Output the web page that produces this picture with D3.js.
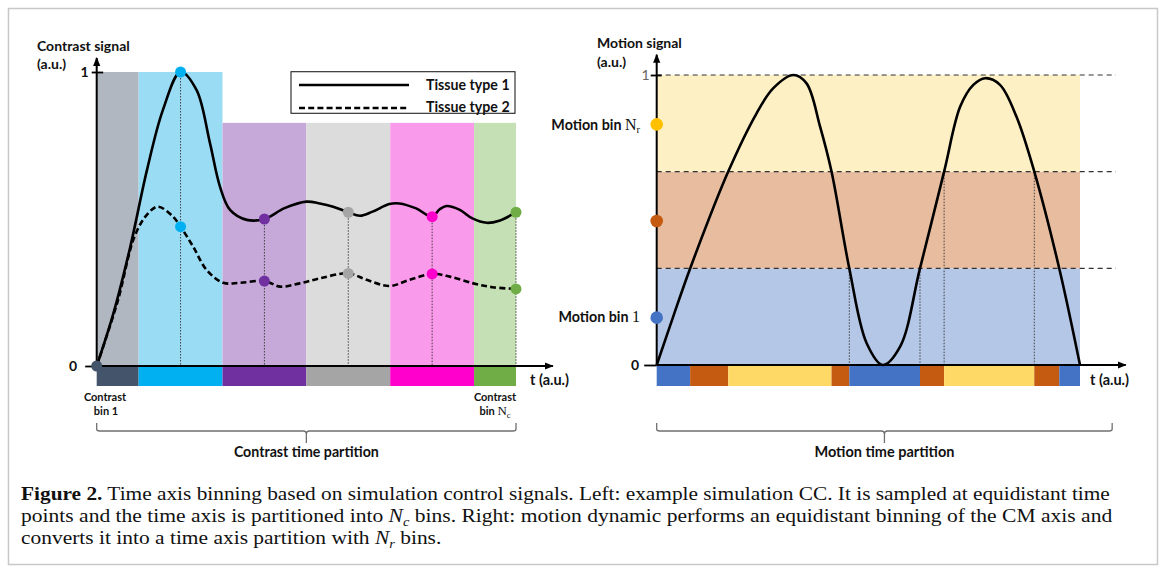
<!DOCTYPE html>
<html>
<head>
<meta charset="utf-8">
<script src="https://cdn.jsdelivr.net/npm/d3@7"></script>
<style>
  body { margin: 0; background: #fff; }
  svg { display: block; }
</style>
</head>
<body>
<svg id="fig" width="1166" height="574"></svg>
<script>
// ---------- data: contrast (left) ----------
const sampleT = [0, 1, 2, 3, 4, 5];
const tissue1 = [0, 1, 0.5, 0.523, 0.508, 0.523];
const tissue2 = [0, 0.474, 0.289, 0.315, 0.313, 0.262];
const binTop = [1, 1, 0.827, 0.827, 0.827, 0.827];
const binLight = ["#b0b7c1", "#9bdcf5", "#c6a9d9", "#dcdcdc", "#fa9aea", "#c5e0b4"];
const binDark = ["#44546a", "#00b0f0", "#7030a0", "#a5a5a5", "#ff00cc", "#70ad47"];
const curve1 = [[0,0],[0.2,0.18],[0.4,0.405],[0.6,0.667],[0.79,0.871],[1,1],[1.19,0.939],[1.35,0.759],
  [1.47,0.61],[1.59,0.531],[1.79,0.497],[2,0.5],[2.24,0.537],[2.5,0.559],[2.66,0.553],[2.82,0.542],
  [3,0.523],[3.14,0.511],[3.29,0.525],[3.49,0.551],[3.61,0.553],[3.81,0.536],[4,0.508],[4.09,0.533],
  [4.17,0.544],[4.33,0.531],[4.48,0.502],[4.65,0.487],[4.8,0.494],[5,0.523]];
const curve2 = [[0,0],[0.25,0.22],[0.45,0.44],[0.6,0.515],[0.73,0.542],[0.91,0.508],[1,0.474],[1.15,0.406],
  [1.31,0.327],[1.51,0.283],[1.71,0.283],[2,0.289],[2.19,0.27],[2.42,0.281],[2.66,0.298],[3,0.315],
  [3.22,0.293],[3.49,0.272],[3.73,0.293],[4,0.313],[4.21,0.304],[4.49,0.281],[4.72,0.268],[5,0.262]];
const legendNames = ["Tissue type 1", "Tissue type 2"];

// ---------- data: motion (right) ----------
const motionCurve = [[0,0],[3.9,0.167],[7.9,0.333],[16.9,0.667],[23.6,0.868],[27.5,0.954],[32.3,1],
  [35.4,0.971],[38.6,0.822],[41.3,0.667],[45.5,0.333],[49.6,0.075],[53.4,0],[57.5,0.063],[62.2,0.333],
  [67.9,0.667],[71.7,0.891],[74.8,0.966],[77.6,0.989],[81.1,0.966],[85.0,0.856],[89.2,0.667],
  [95.1,0.333],[100,0]];
const motionLevels = [0, 1/3, 2/3, 1];
const bandLight = ["#b4c7e7", "#e8bd9f", "#fdf0c5"];
const bandDark = ["#4472c4", "#c55a11", "#ffd966"];
const bandDot = ["#4472c4", "#c55a11", "#ffc000"];
const motionSegs = [[0,7.9,0],[7.9,16.9,1],[16.9,41.3,2],[41.3,45.5,1],[45.5,62.2,0],
  [62.2,67.9,1],[67.9,89.2,2],[89.2,95.1,1],[95.1,100,0]];
const motionDrops = [[45.5,1/3],[62.2,1/3],[67.9,2/3],[89.2,2/3]];

const SANS = "Lato, 'Open Sans', sans-serif";
const SERIF = "'Liberation Serif', 'DejaVu Serif', serif";

const svg = d3.select("#fig");
svg.append("rect").attr("width", 1166).attr("height", 574).attr("fill", "#fff");
svg.append("rect").attr("x", 8.5).attr("y", 8.5).attr("width", 1149).attr("height", 556)
  .attr("fill", "none").attr("stroke", "#c8c8c8").attr("stroke-width", 1.5);

const defs = svg.append("defs");
defs.append("marker").attr("id", "arr").attr("viewBox", "0 0 10 10")
  .attr("refX", 9).attr("refY", 5).attr("markerWidth", 9).attr("markerHeight", 9)
  .attr("markerUnits", "userSpaceOnUse").attr("orient", "auto")
  .append("path").attr("d", "M0,1 L10,5 L0,9 Z").attr("fill", "#000");

function brace(x0, x1, xc, y) {
  svg.append("path")
    .attr("d", `M${x0},${y-8} L${x0},${y-2} Q${x0},${y} ${x0+3},${y} L${xc-3},${y} Q${xc},${y} ${xc},${y+3} L${xc},${y+12}` +
               ` M${xc},${y+3} Q${xc},${y} ${xc+3},${y} L${x1-3},${y} Q${x1},${y} ${x1},${y-2} L${x1},${y-8}`)
    .attr("fill", "none").attr("stroke", "#6f6f6f").attr("stroke-width", 1.3);
}

function label(x, y, txt, size, anchor) {
  return svg.append("text").attr("x", x).attr("y", y).attr("font-family", SANS)
    .attr("font-weight", "bold").attr("font-size", size).attr("text-anchor", anchor || "start")
    .attr("fill", "#111").text(txt);
}

// ================= LEFT PANEL =================
const xL = d3.scaleLinear().domain([0, 5]).range([96.7, 516]);
const yL = d3.scaleLinear().domain([0, 1]).range([366, 72]);
const left = svg.append("g");

sampleT.forEach((t, i) => {
  const a = Math.max(0, t - 0.5), b = Math.min(5, t + 0.5);
  left.append("rect").attr("x", xL(a)).attr("width", xL(b) - xL(a))
    .attr("y", yL(binTop[i])).attr("height", yL(0) - yL(binTop[i])).attr("fill", binLight[i]);
  left.append("rect").attr("x", xL(a)).attr("width", xL(b) - xL(a))
    .attr("y", yL(0)).attr("height", 20).attr("fill", binDark[i]);
});

// dotted sample lines
sampleT.slice(1).forEach((t, j) => {
  left.append("line").attr("x1", xL(t)).attr("x2", xL(t))
    .attr("y1", yL(tissue1[j + 1])).attr("y2", yL(0))
    .attr("stroke", "#333").attr("stroke-width", 0.9).attr("stroke-dasharray", "1.5,1.5");
});

const lineL = d3.line().x(d => xL(d[0])).y(d => yL(d[1])).curve(d3.curveCatmullRom.alpha(0.5));
left.append("path").datum(curve1).attr("d", lineL).attr("fill", "none")
  .attr("stroke", "#000").attr("stroke-width", 2.6);
left.append("path").datum(curve2).attr("d", lineL).attr("fill", "none")
  .attr("stroke", "#000").attr("stroke-width", 2.6).attr("stroke-dasharray", "6,3.2");

// axes
left.append("line").attr("x1", xL(0)).attr("x2", xL(5.44)).attr("y1", yL(0)).attr("y2", yL(0))
  .attr("stroke", "#000").attr("stroke-width", 2).attr("marker-end", "url(#arr)");
left.append("line").attr("x1", xL(0)).attr("x2", xL(0)).attr("y1", yL(0)).attr("y2", yL(1.048))
  .attr("stroke", "#000").attr("stroke-width", 2).attr("marker-end", "url(#arr)");
const axL = left.append("g").attr("transform", `translate(${xL(0)},0)`)
  .call(d3.axisLeft(yL).tickValues([0, 1]).tickSize(11.5).tickPadding(8).tickFormat(d3.format("d")));
axL.select(".domain").remove();
axL.selectAll("line").attr("stroke", "#000").attr("stroke-width", 1.8);
axL.selectAll("text").attr("font-family", SANS).attr("font-weight", "bold").attr("font-size", 14).attr("fill", "#111");
axL.selectAll(".tick").filter(d => d === 1).each(function() {
  d3.select(this).select("line").attr("x1", 6.5).attr("x2", -5);
  d3.select(this).select("text").attr("x", -8);
});

// sample dots
sampleT.forEach((t, i) => {
  left.append("circle").attr("cx", xL(t)).attr("cy", yL(tissue1[i])).attr("r", 5.5).attr("fill", binDark[i]);
  if (i > 0) left.append("circle").attr("cx", xL(t)).attr("cy", yL(tissue2[i])).attr("r", 5.5).attr("fill", binDark[i]);
});

// legend
left.append("rect").attr("x", 291).attr("y", 71.7).attr("width", 224).attr("height", 41.6)
  .attr("fill", "#fff").attr("stroke", "#222").attr("stroke-width", 1.1);
legendNames.forEach((n, i) => {
  left.append("line").attr("x1", 299).attr("x2", 409).attr("y1", 85 + i * 23).attr("y2", 85 + i * 23)
    .attr("stroke", "#000").attr("stroke-width", 2.6).attr("stroke-dasharray", i ? "6,3.2" : null);
  label(426, 89.5 + i * 22.5, n, 14.2);
});

label(37, 51, "Contrast signal", 14);
label(37, 69, "(a.u.)", 14);
label(530, 385, "t (a.u.)", 14.5);
label(105, 401, "Contrast", 11, "middle");
label(106, 415, "bin 1", 11, "middle");
label(495, 401, "Contrast", 11, "middle");
const binNc = label(495, 415, "bin ", 11, "middle");
binNc.append("tspan").attr("font-family", SERIF).attr("font-weight", "normal").attr("font-size", 13).text("N");
binNc.append("tspan").attr("font-family", SERIF).attr("font-weight", "normal").attr("font-size", 8.5).attr("dy", 2.5).text("c");

brace(xL(0), xL(5), (xL(0) + xL(5)) / 2, 431);
label((xL(0) + xL(5)) / 2, 457, "Contrast time partition", 14.2, "middle");

// ================= RIGHT PANEL =================
const xR = d3.scaleLinear().domain([0, 100]).range([656.7, 1080]);
const yR = d3.scaleLinear().domain([0, 1]).range([365, 75]);
const right = svg.append("g");

bandLight.forEach((c, i) => {
  right.append("rect").attr("x", xR(0)).attr("width", xR(100) - xR(0))
    .attr("y", yR(motionLevels[i + 1])).attr("height", yR(motionLevels[i]) - yR(motionLevels[i + 1]))
    .attr("fill", c);
});
motionLevels.slice(1).forEach(v => {
  right.append("line").attr("x1", xR(0)).attr("x2", xR(108.5)).attr("y1", yR(v)).attr("y2", yR(v))
    .attr("stroke", "#333").attr("stroke-width", 1.2).attr("stroke-dasharray", "5,4");
});
motionDrops.forEach(d => {
  right.append("line").attr("x1", xR(d[0])).attr("x2", xR(d[0])).attr("y1", yR(d[1])).attr("y2", yR(0))
    .attr("stroke", "#333").attr("stroke-width", 0.9).attr("stroke-dasharray", "1.5,1.5");
});
motionSegs.forEach(s => {
  right.append("rect").attr("x", xR(s[0])).attr("width", xR(s[1]) - xR(s[0]))
    .attr("y", yR(0)).attr("height", 21).attr("fill", bandDark[s[2]]);
});

const lineR = d3.line().x(d => xR(d[0])).y(d => yR(d[1])).curve(d3.curveCatmullRom.alpha(0.5));
right.append("path").datum(motionCurve).attr("d", lineR).attr("fill", "none")
  .attr("stroke", "#000").attr("stroke-width", 2.6);

right.append("line").attr("x1", xR(0)).attr("x2", xR(110.8)).attr("y1", yR(0)).attr("y2", yR(0))
  .attr("stroke", "#000").attr("stroke-width", 2).attr("marker-end", "url(#arr)");
right.append("line").attr("x1", xR(0)).attr("x2", xR(0)).attr("y1", yR(0)).attr("y2", yR(1.07))
  .attr("stroke", "#000").attr("stroke-width", 2).attr("marker-end", "url(#arr)");
const axR = right.append("g").attr("transform", `translate(${xR(0)},0)`)
  .call(d3.axisLeft(yR).tickValues([0, 1]).tickSize(12.5).tickPadding(5).tickFormat(d3.format("d")));
axR.select(".domain").remove();
axR.selectAll("line").attr("stroke", "#000").attr("stroke-width", 1.8);
axR.selectAll("text").attr("font-family", SANS).attr("font-weight", "bold").attr("font-size", 14).attr("fill", "#111");
axR.selectAll(".tick").filter(d => d === 1).each(function() {
  d3.select(this).select("line").attr("x1", 5).attr("x2", -6);
  d3.select(this).select("text").attr("x", -7).attr("font-weight", "normal").attr("fill", "#666");
});

bandDot.forEach((c, i) => {
  right.append("circle").attr("cx", xR(0)).attr("cy", yR((motionLevels[i] + motionLevels[i + 1]) / 2) + 1)
    .attr("r", 6.3).attr("fill", c);
});

label(597, 48, "Motion signal", 14);
label(597, 67, "(a.u.)", 14);
label(1090, 385, "t (a.u.)", 14.5);
const binNr = label(640, 130, "Motion bin ", 14.3, "end");
binNr.append("tspan").attr("font-family", SERIF).attr("font-weight", "normal").attr("font-size", 16).text("N");
binNr.append("tspan").attr("font-family", SERIF).attr("font-weight", "normal").attr("font-size", 10.5).attr("dy", 3).text("r");
const bin1 = label(640, 322, "Motion bin ", 14.3, "end");
bin1.append("tspan").attr("font-family", SERIF).attr("font-weight", "normal").attr("font-size", 16).text("1");

brace(xR(0), xR(107.6), (xR(0) + xR(107.6)) / 2, 431);
label((xR(0) + xR(107.6)) / 2, 457, "Motion time partition", 14.5, "middle");

// ================= CAPTION =================
const captionLines = [
  [["Figure 2.", "b"], [" Time axis binning based on simulation control signals. Left: example simulation CC. It is sampled at equidistant time", ""]],
  [["points and the time axis is partitioned into ", ""], ["N", "i"], ["c", "s"], [" bins. Right: motion dynamic performs an equidistant binning of the CM axis and", "u"]],
  [["converts it into a time axis partition with ", ""], ["N", "i"], ["r", "s"], [" bins.", "u"]]
];
const captionY = [500, 522, 544];
const captionW = [1089, 1092, null];
const capX = 21;
const scales = [];
captionLines.forEach((parts, li) => {
  const g = svg.append("g");
  const t = g.append("text").attr("font-family", SERIF).attr("font-size", 19.5).attr("fill", "#111");
  parts.forEach(p => {
    const sp = t.append("tspan").text(p[0]);
    if (p[1] === "b") sp.attr("font-weight", "bold");
    if (p[1] === "i") sp.attr("font-style", "italic");
    if (p[1] === "s") sp.attr("font-style", "italic").attr("font-size", 13).attr("dy", 4);
    if (p[1] === "u") sp.attr("dy", -4);
  });
  const w = t.node().getComputedTextLength();
  let k = captionW[li] ? captionW[li] / w : d3.mean(scales);
  scales.push(k);
  g.attr("transform", `translate(${capX},${captionY[li]}) scale(${k},1)`);
});
</script>
</body>
</html>
